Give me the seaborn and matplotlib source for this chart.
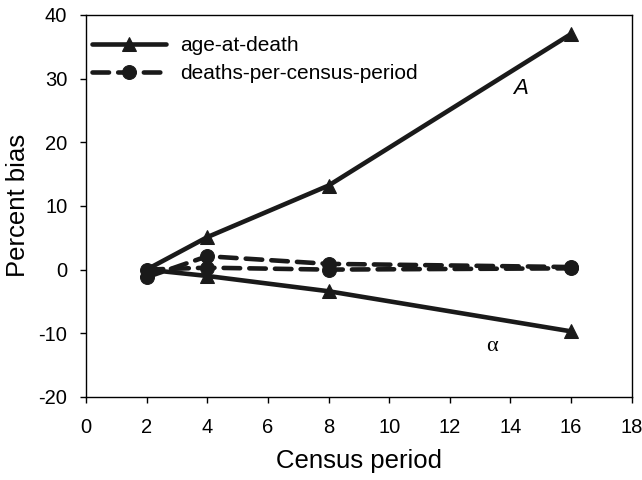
import matplotlib
matplotlib.use("Agg")
import matplotlib.pyplot as plt
import seaborn as sns
import pandas as pd

census = [2, 4, 8, 16]
age_A = [0.0, 5.1, 13.2, 37.0]
age_alpha = [0.0, -1.0, -3.4, -9.7]
dpc_A = [-1.2, 2.1, 0.9, 0.4]
dpc_alpha = [0.0, 0.3, 0.0, 0.2]

sns.set_theme(style="ticks")
plt.rcParams['font.family'] = ['Liberation Sans', 'DejaVu Sans']
plt.rcParams['axes.unicode_minus'] = False
plt.rcParams['text.color'] = 'black'
plt.rcParams['axes.labelcolor'] = 'black'
plt.rcParams['xtick.color'] = 'black'
plt.rcParams['ytick.color'] = 'black'

fig = plt.figure(figsize=(6.42, 4.8), dpi=100)
ax = fig.add_axes([0.134, 0.173, 0.850, 0.796])

col = "#1a1a1a"
series = [
    ("age-at-death", age_A, "^", "-"),
    ("age-at-death", age_alpha, "^", "-"),
    ("deaths-per-census-period", dpc_A, "o", (0, (3.6, 2.0))),
    ("deaths-per-census-period", dpc_alpha, "o", (0, (3.6, 2.0))),
]
for i, (name, vals, mk, ls) in enumerate(series):
    df = pd.DataFrame({"x": census, "y": vals})
    sns.lineplot(data=df, x="x", y="y", ax=ax, color=col, lw=3.3,
                 marker=mk, markersize=10.5 if mk == "^" else 10, linestyle=ls,
                 markeredgecolor=col, dash_capstyle="round",
                 label=name if i in (0, 2) else None)

ax.set_xlim(0, 18)
ax.set_ylim(-20, 40)
ax.set_xticks(range(0, 19, 2))
ax.set_yticks(range(-20, 41, 10))
ax.set_xlabel("Census period", fontsize=18.5, labelpad=8)
ax.set_ylabel("Percent bias", fontsize=18.5, labelpad=6)
ax.tick_params(labelsize=14.5, direction="out", length=4.5, width=1)
ax.tick_params(axis="x", pad=11)
ax.tick_params(axis="y", pad=9)
for s in ax.spines.values():
    s.set_color("black")
    s.set_linewidth(1)

ax.text(14.34, 28.5, "A", fontsize=16, style="italic", ha="center", va="center")
ax.text(13.39, -12.1, "α", fontsize=16, family=["Liberation Serif", "DejaVu Serif"],
        ha="center", va="center")

leg = ax.legend(loc="upper left", bbox_to_anchor=(0.011, 0.945), frameon=False,
                fontsize=15, handlelength=3.55, handletextpad=0.7,
                borderaxespad=0, borderpad=0, labelspacing=0.45)

fig.savefig("out.png", dpi=100)
